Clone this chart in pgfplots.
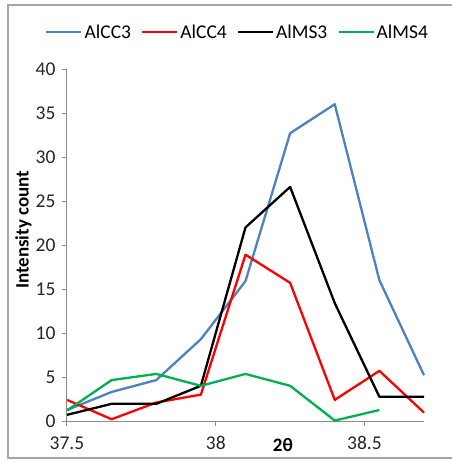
\documentclass[border=0pt]{standalone}
\usepackage{fontspec}
\setmainfont{Carlito}
\usepackage{pgfplots}
\pgfplotsset{compat=1.18}
\definecolor{cblue}{HTML}{4F81BD}
\definecolor{cred}{HTML}{FF0000}
\definecolor{cgreen}{HTML}{00B050}
\definecolor{axgray}{HTML}{8C8C8C}
\begin{document}
\begin{tikzpicture}[x=1pt,y=1pt]
\useasboundingbox (0,-460) rectangle (451,0);
\draw[color=black!35, line width=1.2pt] (8,-458) rectangle (470,-5);
\begin{axis}[
  at={(67pt,-421pt)}, anchor=south west,
  scale only axis, width=357pt, height=352pt,
  xmin=37.5, xmax=38.7, ymin=0, ymax=40,
  axis x line*=bottom, axis y line*=left,
  axis line style={color=axgray, line width=1pt, -},
  xtick={37.5,38,38.5}, ytick={0,5,...,40},
  xticklabels={37.5,38,38.5},
  tick style={color=axgray, line width=1pt},
  tick align=outside, major tick length=5pt,
  /pgf/number format/assume math mode=true,
  tick label style={font=\fontsize{19.5}{21}\selectfont, color=black!85},
  xticklabel style={yshift=-7pt},
  yticklabel style={xshift=-3pt},
  xlabel={\textbf{2θ}}, ylabel={\textbf{Intensity count}},
  label style={font=\fontsize{19}{21}\selectfont},
  x label style={at={(axis description cs:0.605,0)}, anchor=center, yshift=-24pt},
  y label style={at={(axis description cs:-0.122,0.543)}, anchor=center},
  legend columns=4,
  legend style={at={(axis description cs:0.478,1.105)}, anchor=center, draw=none, fill=none,
    font=\fontsize{19.5}{21}\selectfont, /tikz/every even column/.append style={column sep=8pt}},
  legend image code/.code={\draw[#1] (0pt,0pt) -- (35pt,0pt);},
  every axis plot/.append style={line width=2.3pt, line join=round},
  clip=false,
]
\addplot[cblue] coordinates {(37.5,1.25) (37.65,3.3) (37.8,4.65) (37.95,9.3) (38.1,15.9) (38.25,32.7) (38.4,36.0) (38.55,16.0) (38.7,5.2)};
\addplot[cred] coordinates {(37.5,2.4) (37.65,0.2) (37.8,2.1) (37.95,3.0) (38.1,18.9) (38.25,15.7) (38.4,2.4) (38.55,5.7) (38.7,0.95)};
\addplot[black] coordinates {(37.5,0.7) (37.65,1.95) (37.8,1.95) (37.95,4.0) (38.1,22.0) (38.25,26.6) (38.4,13.4) (38.55,2.75) (38.7,2.75)};
\addplot[cgreen] coordinates {(37.5,1.2) (37.65,4.65) (37.8,5.35) (37.95,4.0) (38.1,5.35) (38.25,4.0) (38.4,0.05) (38.55,1.25)};
\legend{AlCC3,AlCC4,AlMS3,AlMS4}
\end{axis}
\end{tikzpicture}
\end{document}
